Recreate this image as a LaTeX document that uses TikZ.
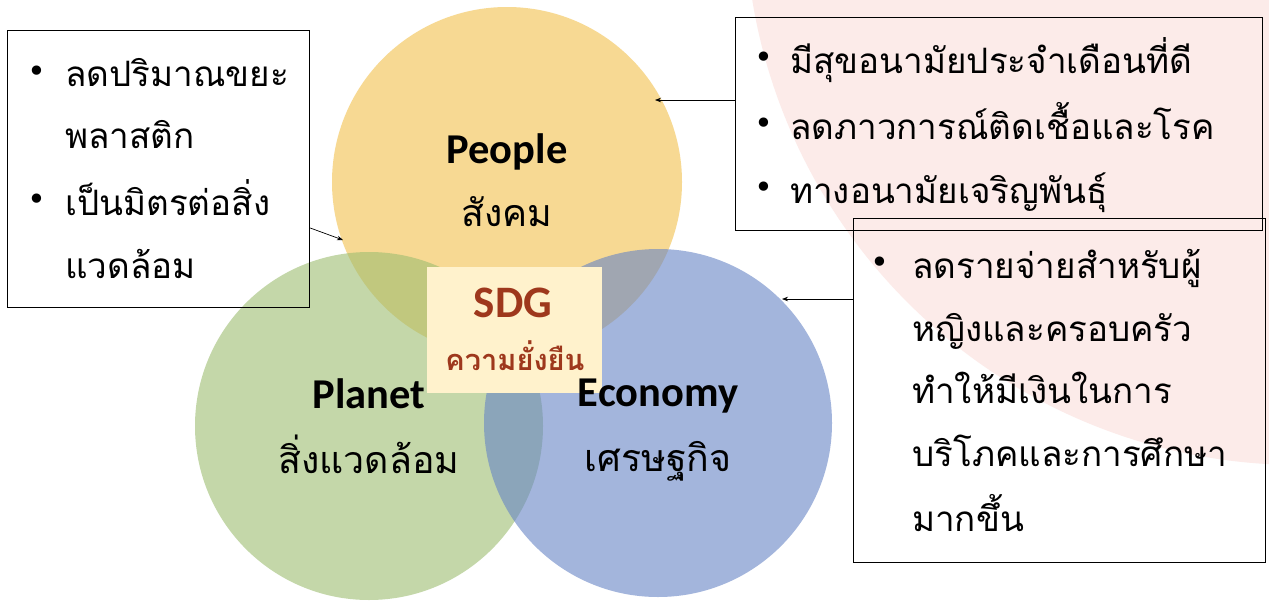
\documentclass[tikz,border=0pt]{standalone}
\usepackage{fontspec}
\usetikzlibrary{arrows.meta,calc}
\newfontfamily\thai[Script=Thai]{Loma}
\newfontfamily\lat{Carlito}
\newfontfamily\dv{DejaVu Sans}
\definecolor{pinkbg}{RGB}{252,235,233}
\definecolor{cyel}{RGB}{242,192,75}
\definecolor{cgreen}{RGB}{157,189,113}
\definecolor{cblue}{RGB}{102,132,198}
\definecolor{sdgfill}{RGB}{255,242,204}
\definecolor{sdgred}{RGB}{158,56,28}
\begin{document}
\begin{tikzpicture}[x=1pt,y=-1pt,
  box/.style={draw=black, line width=1.2pt, rectangle, inner sep=0pt, anchor=north west},
  txt/.style={anchor=base west, inner sep=0pt, font=\thai\fontsize{35}{35}\selectfont},
  bul/.style={inner sep=0pt, font=\dv\fontsize{32}{32}\selectfont},
  conn/.style={line width=0.7pt, -{Stealth[length=6pt,width=4.5pt]}},
  circ/.style={fill opacity=0.6},
  head/.style={anchor=base, inner sep=0pt, font=\lat\bfseries\fontsize{42.5}{42.5}\selectfont},
  sub/.style={anchor=base, inner sep=0pt, font=\thai\fontsize{37.5}{37.5}\selectfont}]
\useasboundingbox (0,0) rectangle (1269,600);
\fill[white] (0,0) rectangle (1269,600);
% background pink shape
\begin{scope}
\clip (0,0) rectangle (1269,600);
\fill[pinkbg] (1300,-90) circle (555);
\end{scope}
% circles
\fill[cyel,circ] (507,182) circle (175);
\fill[cgreen,circ] (369,426) circle (174);
\fill[cblue,circ] (658,423) circle (174);
% SDG box
\node[fill=sdgfill, rectangle, inner sep=0pt, minimum width=175pt, minimum height=126pt, anchor=north west] (sdg) at (427,267) {};
\node[anchor=base, inner sep=0pt, text=sdgred, font=\lat\bfseries\fontsize{45}{45}\selectfont] (sdgt) at (513,317) {SDG};
\node[anchor=base, inner sep=0pt, text=sdgred, font=\thai\bfseries\fontsize{29}{29}\selectfont] (sdgs) at (515,370) {ความยั่งยืน};
% circle labels
\node[head] (people) at (507,163) {People};
\node[sub] (peoplet) at (507,226) {สังคม};
\node[head] (planet) at (369,408) {Planet};
\node[sub] (planett) at (369,473) {สิ่งแวดล้อม};
\node[head] (econ) at (658,406) {Economy};
\node[sub] (econt) at (658,471) {เศรษฐกิจ};
% left box
\node[box, minimum width=302pt, minimum height=277pt] (lbox) at (7,30) {};
\node[bul] (lb1) at (37,74) {•};
\node[txt] (l1) at (65,86) {ลดปริมาณขยะ};
\node[txt] (l2) at (65,148) {พลาสติก};
\node[bul] (lb2) at (37,202) {•};
\node[txt] (l3) at (65,215) {เป็นมิตรต่อสิ่ง};
\node[txt] (l4) at (65,278) {แวดล้อม};
% top right box
\node[box, minimum width=527pt, minimum height=213pt] (tbox) at (735,17) {};
\node[bul] (tb1) at (764,60) {•};
\node[txt] (t1) at (790,73) {มีสุขอนามัยประจำเดือนที่ดี};
\node[bul] (tb2) at (764,126) {•};
\node[txt] (t2) at (790,139) {ลดภาวการณ์ติดเชื้อและโรค};
\node[bul] (tb3) at (764,190) {•};
\node[txt] (t3) at (790,203) {ทางอนามัยเจริญพันธุ์};
% bottom right box
\node[box, minimum width=412pt, minimum height=344pt] (bbox) at (853,218) {};
\node[bul] (bb1) at (880,265) {•};
\node[txt] (b1) at (912,278) {ลดรายจ่ายสำหรับผู้};
\node[txt] (b2) at (912,341) {หญิงและครอบครัว};
\node[txt] (b3) at (912,403) {ทำให้มีเงินในการ};
\node[txt] (b4) at (912,466) {บริโภคและการศึกษา};
\node[txt] (b5) at (912,531) {มากขึ้น};
% connectors
\coordinate (pA) at (655,100);
\coordinate (pB) at (782,299);
\coordinate (pC) at (343,240);
\draw[conn] ($(tbox.north west)+(0,83)$) -- (pA);
\draw[conn] ($(bbox.north west)+(0,81)$) -- (pB);
\draw[conn] ($(lbox.north east)+(0,198)$) -- (pC);
\end{tikzpicture}
\end{document}
